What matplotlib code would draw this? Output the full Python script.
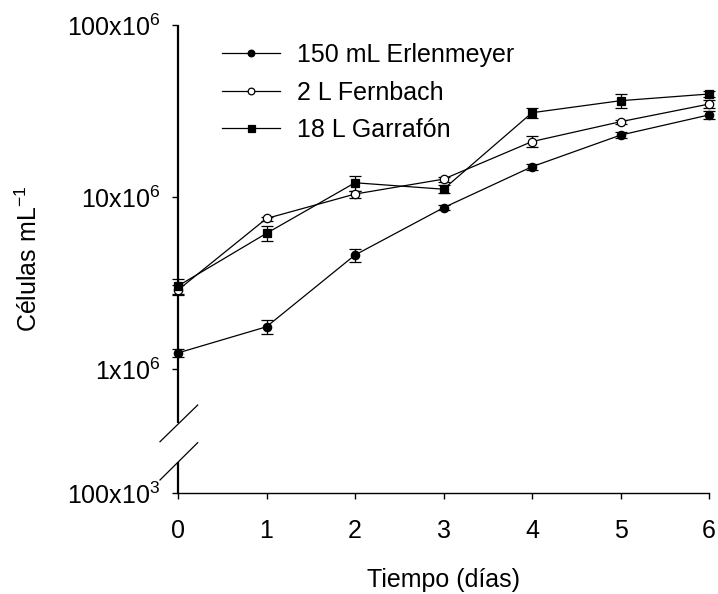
import numpy as np
import matplotlib
matplotlib.use('Agg')
import matplotlib.pyplot as plt

plt.rcParams['font.family'] = ['Liberation Sans', 'DejaVu Sans']
plt.rcParams['mathtext.fontset'] = 'custom'
plt.rcParams['mathtext.rm'] = 'Liberation Sans'
plt.rcParams['mathtext.it'] = 'Liberation Sans'

# datos (células/mL)
dias = [0, 1, 2, 3, 4, 5, 6]
erlenmeyer = [1.24e6, 1.76e6, 4.6e6, 8.66e6, 1.5e7, 2.29e7, 3.0e7]
erlenmeyer_err = [0.06e6, 0.17e6, 0.4e6, 0.3e6, 0.6e6, 1.0e6, 1.5e6]
fernbach = [2.88e6, 7.5e6, 1.04e7, 1.27e7, 2.1e7, 2.74e7, 3.47e7]
fernbach_err = [0.2e6, 0.2e6, 0.5e6, 0.4e6, 1.5e6, 0.8e6, 2.0e6]
garrafon = [3.04e6, 6.15e6, 1.21e7, 1.11e7, 3.09e7, 3.63e7, 3.97e7]
garrafon_err = [0.3e6, 0.6e6, 1.2e6, 0.6e6, 2.0e6, 3.5e6, 1.5e6]

y_ticks = [1e5, 1e6, 1e7, 1e8]
y_labels = [r'100x10$^{3}$', r'1x10$^{6}$', r'10x10$^{6}$', r'100x10$^{6}$']

# escala log con el tramo 1e5-1e6 comprimido (eje cortado)
K = 124 / 172


def forward(v):
    l = np.log10(np.maximum(np.asarray(v, dtype=float), 1e-300))
    return np.where(l >= 6, l, 6 - (6 - l) * K)


def inverse(t):
    t = np.asarray(t, dtype=float)
    return np.where(t >= 6, 10.0 ** t, 10.0 ** (6 - (6 - t) / K))


fig = plt.figure(figsize=(7.18, 5.94), dpi=100)
ax = fig.add_axes([178 / 718, 1 - 493 / 594, 531 / 718, 468 / 594])
ax.set_yscale('function', functions=(forward, inverse))

series = [
    (erlenmeyer, erlenmeyer_err, 'o', 'black', 6, '150 mL Erlenmeyer'),
    (fernbach, fernbach_err, 'o', 'white', 6, '2 L Fernbach'),
    (garrafon, garrafon_err, 's', 'black', 6.3, '18 L Garrafón'),
]
for vals, err, mk, fc, ms, lab in series:
    ax.errorbar(dias, vals, yerr=err, fmt='none', ecolor='black',
                elinewidth=0.9, capsize=4.5, capthick=0.9, clip_on=False, zorder=2)
    ax.plot(dias, vals, color='black', lw=0.9, marker=mk, markersize=ms,
            markerfacecolor=fc, markeredgecolor='black', markeredgewidth=0.9,
            clip_on=False, zorder=3, label=lab)

ax.set_xlim(0, 6)
ax.set_ylim(1e5, 1e8)
ax.set_xticks(dias)
ax.set_yticks(y_ticks)
ax.set_yticklabels(y_labels)
ax.yaxis.set_minor_locator(matplotlib.ticker.NullLocator())
ax.tick_params(axis='both', labelsize=18, direction='out', length=4.5, width=1)
ax.tick_params(axis='x', pad=14)
ax.tick_params(axis='y', pad=8)

for s in ['top', 'right', 'left']:
    ax.spines[s].set_visible(False)
ax.spines['bottom'].set_linewidth(1.0)

# eje y cortado: dos tramos y marcas de corte
ax.plot([0, 0], [1, 0.1496], transform=ax.transAxes, color='black',
        lw=1.6, clip_on=False, solid_capstyle='butt')
ax.plot([0, 0], [0.0662, 0], transform=ax.transAxes, color='black',
        lw=1.6, clip_on=False, solid_capstyle='butt')
for y0, y1 in [(0.1096, 0.188), (0.0278, 0.1075)]:
    ax.plot([-0.0339, 0.0371], [y0, y1], transform=ax.transAxes,
            color='black', lw=0.9, clip_on=False)

ax.set_ylabel(r'Células mL$^{-1}$', fontsize=18, labelpad=18)
ax.set_xlabel('Tiempo (días)', fontsize=18, labelpad=18)

leg = ax.legend(loc='upper left', bbox_to_anchor=(222 / 718, 1 - 43 / 594),
                bbox_transform=fig.transFigure, frameon=False, fontsize=18,
                handlelength=2.32, handletextpad=0.67, labelspacing=0.54,
                borderpad=0, borderaxespad=0, markerscale=0.8)

fig.savefig('out.png', dpi=100)
